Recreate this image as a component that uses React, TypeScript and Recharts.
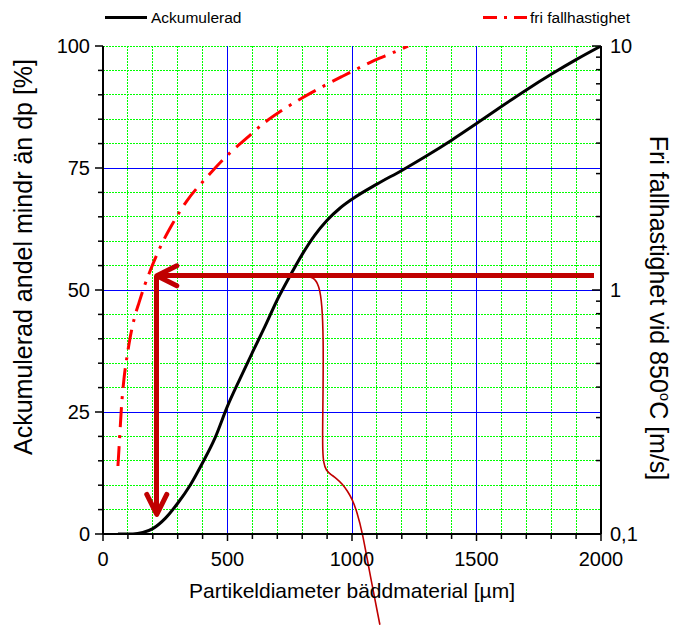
import React from 'react';
import { ComposedChart, Line, XAxis, YAxis, CartesianGrid, ReferenceLine } from 'recharts';

// ---- tick values ----
const xTicks = [0, 100, 200, 300, 400, 500, 600, 700, 800, 900, 1000, 1100, 1200, 1300, 1400, 1500, 1600, 1700, 1800, 1900, 2000];
const xMajorTicks = [0, 500, 1000, 1500, 2000];
const yTicks = [0, 5, 10, 15, 20, 25, 30, 35, 40, 45, 50, 55, 60, 65, 70, 75, 80, 85, 90, 95, 100];
const yMajorTicks = [0, 25, 50, 75, 100];
const rightTicks = [0.1, 0.2, 0.3, 0.4, 0.5, 0.6, 0.7, 0.8, 0.9, 1, 2, 3, 4, 5, 6, 7, 8, 9, 10];
const rightMajorTicks = [0.1, 1, 10];
const rightMajorLabels = ['0,1', '1', '10'];
const gridMajorX = [500, 1000, 1500];
const gridMajorY = [25, 50, 75];

// ---- Ackumulerad (left axis, %) ----
const ackX = [60, 120, 160, 200, 250, 300, 350, 400, 450, 500, 550, 600, 650, 700, 750, 800, 850, 900, 950, 1000, 1100, 1200, 1300, 1400, 1500, 1600, 1700, 1800, 1900, 2000];
const ackY = [0, 0, 0.3, 1.1, 3.2, 6.3, 10, 14.6, 19.7, 26.2, 31.8, 37.2, 42.5, 48, 52.8, 57.3, 61.2, 64.3, 66.7, 68.6, 71.7, 74.5, 77.5, 80.7, 84.1, 87.6, 91, 94.2, 97.2, 100];

// ---- fri fallhastighet (right log axis, m/s) ----
const friX = [60, 66, 74, 84, 96, 108, 125, 145, 168, 191, 230, 277, 337, 417, 510, 578, 643, 719, 803, 880, 960, 1030, 1092, 1160, 1225];
const friV = [0.19, 0.24, 0.33, 0.43, 0.53, 0.63, 0.76, 0.89, 1.05, 1.21, 1.5, 1.85, 2.32, 2.9, 3.65, 4.2, 4.8, 5.45, 6.15, 6.8, 7.5, 8.15, 8.75, 9.35, 10];

// ---- thin dark red guide curve (left axis) ----
const thinX = [804, 845, 868, 880, 885, 884, 882, 882, 886, 896, 915, 940, 962, 982, 1000, 1020, 1043, 1066, 1112];
const thinY = [52.9, 52.7, 51, 47, 40, 30, 22, 17, 14.5, 13, 12.2, 11.3, 10.2, 8.8, 7.2, 4.6, 0, -6.6, -18.6];

// ---- arrows (data coords) ----
const arrowLevel = 52.9;
const arrowX = 216;
const arrowRightX = 1972;
const arrowBottomY = 4;

const ackData = ackX.map((x, i) => ({ x, y: ackY[i] }));
const friData = friX.map((x, i) => ({ x, v: friV[i] }));
const thinData = thinX.map((x, i) => ({ x, y: thinY[i] }));

const FONT = "'Liberation Sans', Arial, Helvetica, sans-serif";
const DARKRED = '#c00000';

const BottomTick = (props: any) => {
  const { x, y, payload } = props;
  const v = payload.value;
  const major = xMajorTicks.includes(v);
  return (
    <g>
      <line x1={x} y1={y} x2={x} y2={y + (major ? 7 : 5)} stroke="#000" strokeWidth={1.5} />
      {major && (
        <text x={x} y={y + 32} textAnchor="middle" fontSize={20} fontFamily={FONT} fill="#000">
          {v}
        </text>
      )}
    </g>
  );
};

const TopTick = (props: any) => {
  const { x, y, payload } = props;
  const major = xMajorTicks.includes(payload.value);
  return <line x1={x} y1={y} x2={x} y2={y + (major ? 8 : 5)} stroke="#000" strokeWidth={1.5} />;
};

const LeftTick = (props: any) => {
  const { x, y, payload } = props;
  const v = payload.value;
  const major = yMajorTicks.includes(v);
  return (
    <g>
      <line x1={x} y1={y} x2={x - (major ? 8 : 5)} y2={y} stroke="#000" strokeWidth={1.5} />
      {major && (
        <text x={x - 13} y={y + 7} textAnchor="end" fontSize={20} fontFamily={FONT} fill="#000">
          {v}
        </text>
      )}
    </g>
  );
};

const RightTick = (props: any) => {
  const { x, y, payload } = props;
  const v = payload.value;
  const idx = rightMajorTicks.findIndex((t) => Math.abs(t - v) < 1e-9);
  const major = idx >= 0;
  return (
    <g>
      <line x1={x} y1={y} x2={x - (major ? 9 : 5)} y2={y} stroke="#000" strokeWidth={1.5} />
      {major && (
        <text x={x + 9} y={y + 7} textAnchor="start" fontSize={20} fontFamily={FONT} fill="#000">
          {rightMajorLabels[idx]}
        </text>
      )}
    </g>
  );
};

const arrowShape = (p: any) => {
  const { x1, y1, x2, y2 } = p;
  const dx = x2 - x1;
  const dy = y2 - y1;
  const len = Math.hypot(dx, dy) || 1;
  const ux = dx / len;
  const uy = dy / len;
  const back = 20;
  const side = 10;
  const ax = x2 - ux * back;
  const ay = y2 - uy * back;
  return (
    <g>
      <line x1={x1} y1={y1} x2={x2} y2={y2} stroke={DARKRED} strokeWidth={5} />
      <polyline
        points={`${ax - uy * side},${ay + ux * side} ${x2},${y2} ${ax + uy * side},${ay - ux * side}`}
        fill="none"
        stroke={DARKRED}
        strokeWidth={5}
        strokeLinejoin="round"
        strokeLinecap="round"
      />
    </g>
  );
};

export default function App() {
  return (
    <div style={{ position: 'absolute', left: 0, top: 0, width: 673, height: 627, background: '#fff' }}>
      <style>{`.noclip, .noclip * { clip-path: none !important; } .recharts-cartesian-grid line, .recharts-reference-line line { shape-rendering: crispEdges; }`}</style>
      <ComposedChart width={673} height={627} margin={{ top: 46, right: 0, bottom: 0, left: 0 }}>
        <CartesianGrid xAxisId="b" yAxisId="l" stroke="#00ff00" strokeDasharray="2 1" strokeWidth={1} />
        {gridMajorX.map((v) => (
          <ReferenceLine key={'gx' + v} x={v} xAxisId="b" yAxisId="l" stroke="#0000ff" strokeWidth={1} />
        ))}
        {gridMajorY.map((v) => (
          <ReferenceLine key={'gy' + v} y={v} xAxisId="b" yAxisId="l" stroke="#0000ff" strokeWidth={1} />
        ))}
        <XAxis
          xAxisId="b"
          dataKey="x"
          type="number"
          domain={[0, 2000]}
          ticks={xTicks}
          interval={0}
          height={93}
          tickSize={0}
          tickMargin={0}
          tickLine={false}
          axisLine={{ stroke: '#000', strokeWidth: 2 }}
          tick={<BottomTick />}
        />
        <XAxis
          xAxisId="t"
          orientation="top"
          dataKey="x"
          type="number"
          domain={[0, 2000]}
          ticks={xTicks}
          interval={0}
          height={0}
          tickSize={0}
          tickMargin={0}
          tickLine={false}
          axisLine={{ stroke: '#000', strokeWidth: 2 }}
          tick={<TopTick />}
        />
        <YAxis
          yAxisId="l"
          type="number"
          domain={[0, 100]}
          allowDataOverflow
          ticks={yTicks}
          interval={0}
          width={103}
          tickSize={0}
          tickMargin={0}
          tickLine={false}
          axisLine={{ stroke: '#000', strokeWidth: 2 }}
          tick={<LeftTick />}
        />
        <YAxis
          yAxisId="r"
          orientation="right"
          type="number"
          scale="log"
          domain={[0.1, 10]}
          allowDataOverflow
          ticks={rightTicks}
          interval={0}
          width={72}
          tickSize={0}
          tickMargin={0}
          tickLine={false}
          axisLine={{ stroke: '#000', strokeWidth: 2 }}
          tick={<RightTick />}
        />
        <Line
          data={friData}
          xAxisId="b"
          yAxisId="r"
          dataKey="v"
          type="monotone"
          stroke="#ff0000"
          strokeWidth={3}
          strokeDasharray="20 8 3 8"
          dot={false}
          activeDot={false}
          isAnimationActive={false}
        />
        <Line
          data={ackData}
          xAxisId="b"
          yAxisId="l"
          dataKey="y"
          type="monotone"
          stroke="#000000"
          strokeWidth={3}
          dot={false}
          activeDot={false}
          isAnimationActive={false}
        />
        <Line
          className="noclip"
          data={thinData}
          xAxisId="b"
          yAxisId="l"
          dataKey="y"
          type="basis"
          stroke={DARKRED}
          strokeWidth={1.6}
          dot={false}
          activeDot={false}
          isAnimationActive={false}
        />
        <ReferenceLine
          xAxisId="b"
          yAxisId="l"
          segment={[{ x: arrowRightX, y: arrowLevel }, { x: arrowX, y: arrowLevel }]}
          shape={arrowShape}
          ifOverflow="visible"
        />
        <ReferenceLine
          xAxisId="b"
          yAxisId="l"
          segment={[{ x: arrowX, y: arrowLevel }, { x: arrowX, y: arrowBottomY }]}
          shape={arrowShape}
          ifOverflow="visible"
        />
      </ComposedChart>
      <svg
        width={673}
        height={627}
        style={{ position: 'absolute', left: 0, top: 0, pointerEvents: 'none' }}
      >
        <line x1={105} y1={17.5} x2={147} y2={17.5} stroke="#000" strokeWidth={3} />
        <text x={151} y={23} fontSize={15.5} fontFamily={FONT} fill="#000">Ackumulerad</text>
        <line x1={483} y1={17.5} x2={527} y2={17.5} stroke="#ff0000" strokeWidth={3} strokeDasharray="14 7 3 7" />
        <text x={530} y={23} fontSize={15.5} fontFamily={FONT} fill="#000">fri fallhastighet</text>
        <text
          transform="translate(32,257) rotate(-90)"
          textAnchor="middle"
          fontSize={25}
          fontFamily={FONT}
          fill="#000"
        >
          Ackumulerad andel mindr än dp [%]
        </text>
        <text
          transform="translate(650,308) rotate(90)"
          textAnchor="middle"
          fontSize={25}
          fontFamily={FONT}
          fill="#000"
        >
          Fri fallhastighet vid 850
          <tspan fontSize={15} dy={-10}>o</tspan>
          <tspan dy={10}>C [m/s]</tspan>
        </text>
        <text x={352} y={598} textAnchor="middle" fontSize={21} fontFamily={FONT} fill="#000">
          Partikeldiameter bäddmaterial [µm]
        </text>
      </svg>
    </div>
  );
}
